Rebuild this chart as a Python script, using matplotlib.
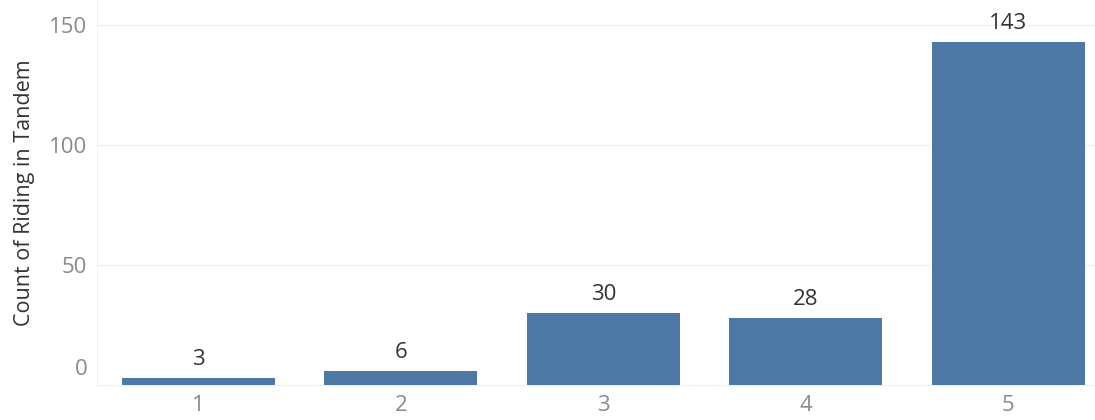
import matplotlib.pyplot as plt

# Values
categories = ["1", "2", "3", "4", "5"]
counts = [3, 6, 30, 28, 143]
y_ticks = [50, 100, 150]

BAR_COLOR = "#4e79a7"
GRID_COLOR = "#f0f0f0"
TICK_COLOR = "#8a8a8a"
TEXT_COLOR = "#333333"


def plot_chart():
    """Draw the bar chart and save it as out.png."""
    plt.rcParams["font.family"] = ["Open Sans", "DejaVu Sans"]

    fig = plt.figure(figsize=(10.95, 4.2), dpi=100)
    ax = fig.add_axes([0.0886, 0.0833, 0.9247, 0.9167])

    positions = range(len(categories))
    ax.bar(positions, counts, width=0.755, color=BAR_COLOR, zorder=3)

    # Value labels above the bars
    for x, value in zip(positions, counts):
        ax.annotate(
            str(value),
            xy=(x, value),
            xytext=(0, 5.5),
            textcoords="offset points",
            ha="center",
            va="bottom",
            fontsize=16,
            color=TEXT_COLOR,
        )

    ax.set_xlim(-0.5, len(categories) - 0.5)
    ax.set_ylim(0, 160.4)

    ax.set_xticks(list(positions))
    ax.set_xticklabels(categories)
    ax.set_yticks(y_ticks)
    ax.tick_params(axis="both", length=0, labelsize=16, labelcolor=TICK_COLOR, pad=7)

    # Tableau nudges the zero label up off the baseline
    ax.annotate(
        "0",
        xy=(0, 0),
        xycoords=("axes fraction", "data"),
        xytext=(-7, 11),
        textcoords="offset points",
        ha="right",
        va="center",
        fontsize=16,
        color=TICK_COLOR,
    )

    ax.grid(axis="y", color=GRID_COLOR, linewidth=1, zorder=0)
    for side in ["top", "right"]:
        ax.spines[side].set_visible(False)
    ax.spines["left"].set_color(GRID_COLOR)
    ax.spines["bottom"].set_color(GRID_COLOR)

    ax.set_ylabel("Count of Riding in Tandem", fontsize=15.5, color=TEXT_COLOR, labelpad=10)

    fig.savefig("out.png", dpi=100)
    plt.close(fig)


if __name__ == "__main__":
    plot_chart()
